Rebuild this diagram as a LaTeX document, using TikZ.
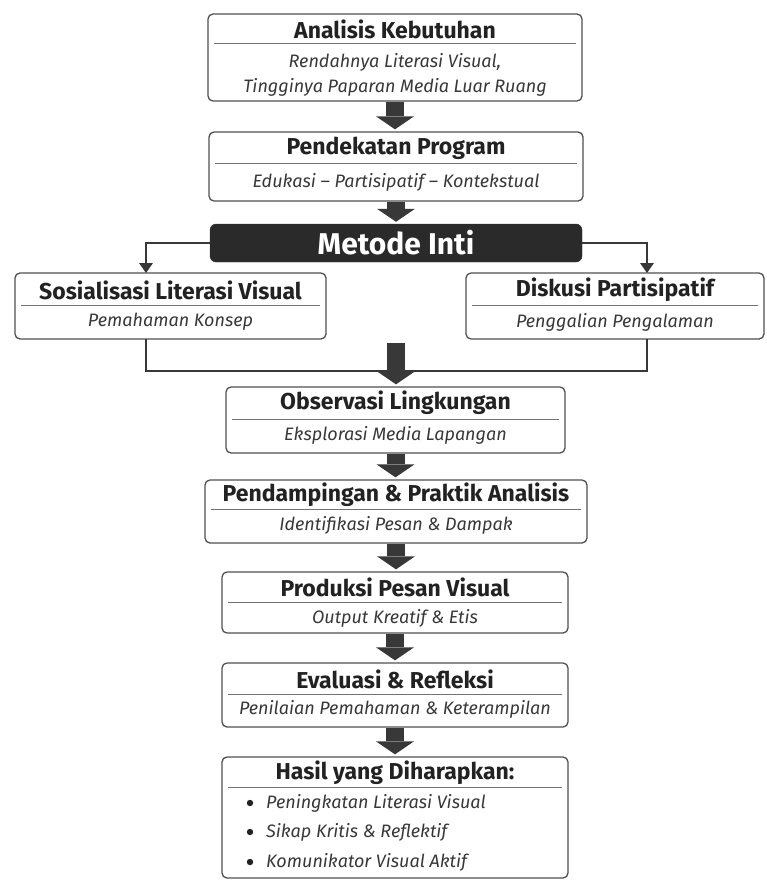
\documentclass[tikz,border=0pt]{standalone}
\usepackage{fontspec}
\setmainfont{Fira Sans}
\usetikzlibrary{arrows.meta,calc}
\definecolor{edge}{HTML}{505050}
\definecolor{ink}{HTML}{222222}
\definecolor{arr}{HTML}{383838}
\definecolor{darkbox}{HTML}{2A2A2A}
\tikzset{
  box/.style={draw=edge,line width=1.3pt,rounded corners=5pt,fill=white,inner sep=0pt},
  darkbx/.style={draw=darkbox,fill=darkbox,rounded corners=6pt,inner sep=0pt},
  ttl/.style={font=\fontsize{23}{27}\selectfont\bfseries,text=ink,inner sep=0pt},
  sub/.style={font=\fontsize{18}{21}\selectfont\itshape,text=ink!90,inner sep=0pt},
  sep/.style={draw=edge!80,line width=1pt,shorten <=7pt,shorten >=7pt},
  fat/.style={draw=arr,line width=18pt,-{Triangle[width=38pt,length=13pt,line width=0pt]},shorten >=2pt},
  conn/.style={draw=arr,line width=1.6pt},
  connar/.style={conn,-{Triangle[width=14pt,length=10pt,line width=0pt]}}
}
\begin{document}
\begin{tikzpicture}[x=1pt,y=-1pt]
\useasboundingbox (0,0) rectangle (766,880);
% A
\node[box,minimum width=374pt,minimum height=87pt] (a) at (395,57.5) {};
\draw[sep] (a.west |- 0,44) -- (a.east |- 0,44);
\node[ttl] (at) at (395,29) {Analisis Kebutuhan};
\node[sub] (as1) at (395,62) {Rendahnya Literasi Visual,};
\node[sub] (as2) at (395,87) {Tingginya Paparan Media Luar Ruang};
% B
\node[box,minimum width=374pt,minimum height=69pt] (b) at (396,166.5) {};
\draw[sep] (b.west |- 0,163) -- (b.east |- 0,163);
\node[ttl] (bt) at (396,148) {Pendekatan Program};
\node[sub] (bs) at (396,182) {Edukasi -- Partisipatif -- Kontekstual};
% M
\node[darkbx,minimum width=372pt,minimum height=38pt] (m) at (396,243) {};
\node[font=\fontsize{30}{34}\selectfont\bfseries,text=white,inner sep=0pt] (mt) at (396,243) {Metode Inti};
% S
\node[box,minimum width=311pt,minimum height=66pt] (s) at (170.5,306) {};
\draw[sep] (s.west |- 0,305) -- (s.east |- 0,305);
\node[ttl] (st) at (170.5,290) {Sosialisasi Literasi Visual};
\node[sub] (ss) at (170.5,322) {Pemahaman Konsep};
% D
\node[box,minimum width=298pt,minimum height=66pt] (d) at (615,306) {};
\draw[sep] (d.west |- 0,305) -- (d.east |- 0,305);
\node[ttl] (dt) at (615,290) {Diskusi Partisipatif};
\node[sub] (ds) at (615,322) {Penggalian Pengalaman};
% O
\node[box,minimum width=339pt,minimum height=66pt] (o) at (395.5,420) {};
\draw[sep] (o.west |- 0,419) -- (o.east |- 0,419);
\node[ttl] (ot) at (395.5,403) {Observasi Lingkungan};
\node[sub] (os) at (395.5,435) {Eksplorasi Media Lapangan};
% P
\node[box,minimum width=382pt,minimum height=63pt] (p) at (396,511.5) {};
\draw[sep] (p.west |- 0,509) -- (p.east |- 0,509);
\node[ttl] (pt) at (396,495) {Pendampingan \& Praktik Analisis};
\node[sub] (ps) at (396,525) {Identifikasi Pesan \& Dampak};
% R
\node[box,minimum width=346pt,minimum height=61pt] (r) at (395,602.5) {};
\draw[sep] (r.west |- 0,602) -- (r.east |- 0,602);
\node[ttl] (rt) at (395,587) {Produksi Pesan Visual};
\node[sub] (rs) at (395,618) {Output Kreatif \& Etis};
% E
\node[box,minimum width=346pt,minimum height=64pt] (e) at (395,695) {};
\draw[sep] (e.west |- 0,694) -- (e.east |- 0,694);
\node[ttl] (et) at (395,679) {Evaluasi \& Refleksi};
\node[sub] (es) at (395,709) {Penilaian Pemahaman \& Keterampilan};
% H
\node[box,minimum width=346pt,minimum height=121pt] (h) at (395,817.5) {};
\draw[sep] (h.west |- 0,787) -- (h.east |- 0,787);
\node[ttl] (ht) at (395,773) {Hasil yang Diharapkan:};
\fill[ink] (250,803) circle (3.2pt) coordinate (hb1);
\fill[ink] (250,832) circle (3.2pt) coordinate (hb2);
\fill[ink] (250,862) circle (3.2pt) coordinate (hb3);
\node[sub,anchor=west] (h2) at (266,803) {Peningkatan Literasi Visual};
\node[sub,anchor=west] (h3) at (266,832) {Sikap Kritis \& Reflektif};
\node[sub,anchor=west] (h4) at (266,862) {Komunikator Visual Aktif};
% connectors
\draw[fat] (a.south) -- (a.south |- b.north);
\draw[fat] (b.south) -- (b.south |- m.north);
\coordinate (sIn) at (146,273);
\coordinate (dIn) at (647,273);
\draw[connar] (m.west) -| (sIn);
\draw[connar] (m.east) -| (dIn);
\coordinate (sOut) at (146,339);
\coordinate (dOut) at (647,339);
\coordinate (mj) at (396,371);
\coordinate (mtop) at (396,343);
\draw[conn] (sOut) |- (mj);
\draw[conn] (dOut) |- (mj);
\draw[fat] (mtop) -- (mtop |- o.north);
\draw[fat] (o.south) -- (o.south |- p.north);
\draw[fat] (p.south) -- (p.south |- r.north);
\draw[fat] (r.south) -- (r.south |- e.north);
\draw[fat] (e.south) -- (e.south |- h.north);
\end{tikzpicture}
\end{document}
